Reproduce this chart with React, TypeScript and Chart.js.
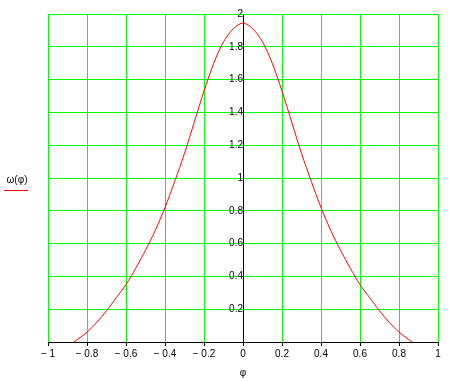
import React, { useEffect, useRef } from "react";
import { Chart, registerables } from "chart.js";

Chart.register(...registerables);

const phiValues = [-0.867, -0.8, -0.75, -0.7, -0.65, -0.6, -0.55, -0.5, -0.45, -0.4, -0.35, -0.3, -0.25, -0.2, -0.15, -0.1, -0.05, 0, 0.05, 0.1, 0.15, 0.2, 0.25, 0.3, 0.35, 0.4, 0.45, 0.5, 0.55, 0.6, 0.65, 0.7, 0.75, 0.8, 0.867];
const omegaValues = [0, 0.06, 0.12, 0.19, 0.27, 0.35, 0.45, 0.56, 0.68, 0.82, 0.98, 1.15, 1.34, 1.53, 1.7, 1.83, 1.91, 1.945, 1.91, 1.83, 1.7, 1.53, 1.34, 1.15, 0.98, 0.82, 0.68, 0.56, 0.45, 0.35, 0.27, 0.19, 0.12, 0.06, 0];
const xTicksRange = [-1, 1];
const yTicksRange = [0, 2];
const seriesLabel = "ω(φ)";
const xTitle = "φ";

const GREEN = "#00ff00";
const FONT = { family: "'Liberation Sans', Arial, sans-serif", size: 10 };

const fmt = (v: number) => {
  const n = Number(v.toFixed(1));
  if (n < 0) return "− " + String(Math.abs(n));
  return String(n);
};

export default function App() {
  const ref = useRef<HTMLCanvasElement | null>(null);
  useEffect(() => {
    document.body.style.margin = "0";
    const canvas = ref.current;
    if (!canvas) return;
    const legendPlugin = {
      id: "leftLabel",
      afterDraw(chart: any) {
        const ctx = chart.ctx;
        ctx.save();
        ctx.fillStyle = "#000";
        ctx.font = "10px 'Liberation Sans', Arial, sans-serif";
        ctx.textAlign = "center";
        ctx.textBaseline = "middle";
        ctx.fillText(seriesLabel, 17, 180);
        ctx.strokeStyle = "#ff0000";
        ctx.lineWidth = 1;
        ctx.beginPath();
        ctx.moveTo(4, 190.5);
        ctx.lineTo(28, 190.5);
        ctx.stroke();
        ctx.restore();
      },
    };
    const chart = new Chart(canvas, {
      type: "scatter",
      data: {
        datasets: [
          {
            label: seriesLabel,
            data: phiValues.map((x, i) => ({ x, y: omegaValues[i] })),
            showLine: true,
            borderColor: "#ff0000",
            borderWidth: 1,
            pointRadius: 0,
            tension: 0.3,
            fill: false,
          },
        ],
      },
      options: {
        responsive: false,
        animation: false,
        layout: { padding: { left: 48, right: 19, top: 14, bottom: 0 } },
        plugins: { legend: { display: false }, tooltip: { enabled: false } },
        scales: {
          x: {
            type: "linear",
            min: xTicksRange[0],
            max: xTicksRange[1],
            ticks: {
              stepSize: 0.2,
              color: "#000",
              font: FONT,
              padding: 2,
              maxRotation: 0,
              autoSkip: false,
              callback: (v: any) => fmt(Number(v)),
            },
            grid: {
              color: (c: any) => (Math.abs(c.tick?.value ?? 1) < 1e-9 ? "#000" : GREEN),
              lineWidth: 1,
              tickColor: "#000",
              tickLength: 4,
            },
            border: { color: "#000", width: 1 },
            title: { display: true, text: xTitle, color: "#000", font: FONT, padding: { top: 0, bottom: 2 } },
            afterFit: (s: any) => {
              s.height = 39;
            },
          },
          y: {
            type: "linear",
            position: { x: 0 } as any,
            min: yTicksRange[0],
            max: yTicksRange[1],
            ticks: {
              stepSize: 0.2,
              color: "#000",
              font: FONT,
              padding: 3,
              callback: (v: any) => (Math.abs(Number(v)) < 1e-9 ? "" : fmt(Number(v))),
            },
            grid: {
              color: (c: any) => (Math.abs(c.tick?.value ?? 1) < 1e-9 ? "#000" : GREEN),
              lineWidth: 1,
              drawTicks: false,
            },
            border: { color: "#000", width: 1 },
          },
        },
      },
      plugins: [legendPlugin],
    } as any);
    return () => chart.destroy();
  }, []);
  return (
    <div style={{ width: 457, height: 381, background: "#fff" }}>
      <canvas ref={ref} width={457} height={381} style={{ display: "block" }} />
    </div>
  );
}
